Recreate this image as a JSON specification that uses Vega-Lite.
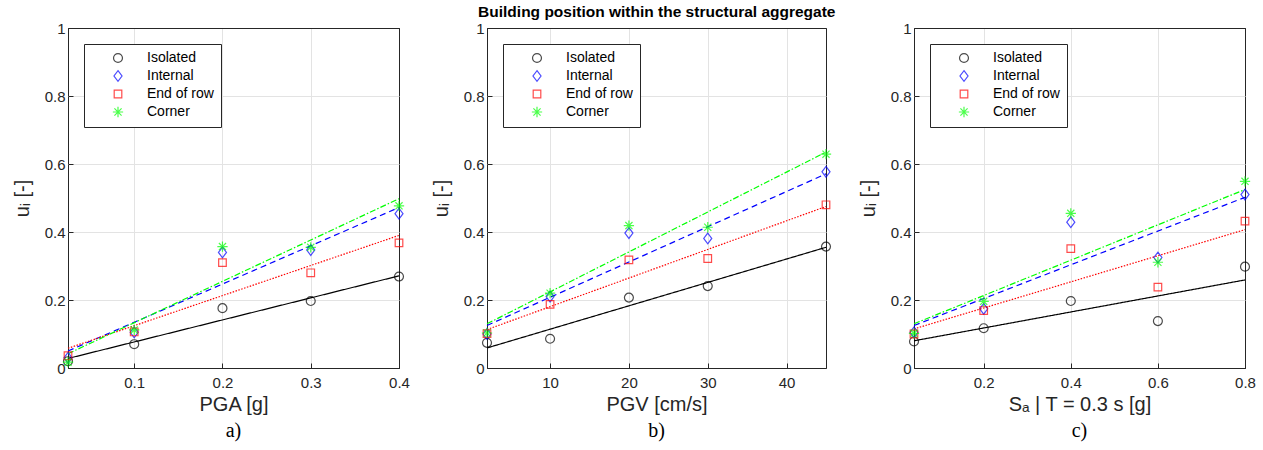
{
  "$schema": "https://vega.github.io/schema/vega-lite/v6.json",
  "background": "white",
  "padding": {"left": 11, "top": 5, "right": 5, "bottom": 2},
  "title": {"text": "Building position within the structural aggregate", "font": "Liberation Sans", "fontSize": 15.5, "fontWeight": "bold", "color": "#000000", "anchor": "middle", "dx": 23, "offset": 0},
  "spacing": 88,
  "bounds": "flush",
  "resolve": {"scale": {"color": "independent", "shape": "independent", "x": "independent"}, "legend": {"color": "independent", "shape": "independent"}},
  "datasets": {
    "pts": [
      {"panel": "a", "cat": "Isolated", "x": 0.025, "y": 0.02},
      {"panel": "a", "cat": "Isolated", "x": 0.1, "y": 0.07},
      {"panel": "a", "cat": "Isolated", "x": 0.2, "y": 0.176},
      {"panel": "a", "cat": "Isolated", "x": 0.3, "y": 0.197},
      {"panel": "a", "cat": "Isolated", "x": 0.4, "y": 0.269},
      {"panel": "a", "cat": "Internal", "x": 0.025, "y": 0.03},
      {"panel": "a", "cat": "Internal", "x": 0.1, "y": 0.105},
      {"panel": "a", "cat": "Internal", "x": 0.2, "y": 0.34},
      {"panel": "a", "cat": "Internal", "x": 0.3, "y": 0.347},
      {"panel": "a", "cat": "Internal", "x": 0.4, "y": 0.454},
      {"panel": "a", "cat": "End of row", "x": 0.025, "y": 0.036},
      {"panel": "a", "cat": "End of row", "x": 0.1, "y": 0.106},
      {"panel": "a", "cat": "End of row", "x": 0.2, "y": 0.31},
      {"panel": "a", "cat": "End of row", "x": 0.3, "y": 0.28},
      {"panel": "a", "cat": "End of row", "x": 0.4, "y": 0.368},
      {"panel": "a", "cat": "Corner", "x": 0.025, "y": 0.017},
      {"panel": "a", "cat": "Corner", "x": 0.1, "y": 0.112},
      {"panel": "a", "cat": "Corner", "x": 0.2, "y": 0.357},
      {"panel": "a", "cat": "Corner", "x": 0.3, "y": 0.355},
      {"panel": "a", "cat": "Corner", "x": 0.4, "y": 0.477},
      {"panel": "b", "cat": "Isolated", "x": 2, "y": 0.074},
      {"panel": "b", "cat": "Isolated", "x": 10, "y": 0.086},
      {"panel": "b", "cat": "Isolated", "x": 20, "y": 0.207},
      {"panel": "b", "cat": "Isolated", "x": 30, "y": 0.241},
      {"panel": "b", "cat": "Isolated", "x": 45, "y": 0.357},
      {"panel": "b", "cat": "Internal", "x": 2, "y": 0.1},
      {"panel": "b", "cat": "Internal", "x": 10, "y": 0.21},
      {"panel": "b", "cat": "Internal", "x": 20, "y": 0.397},
      {"panel": "b", "cat": "Internal", "x": 30, "y": 0.381},
      {"panel": "b", "cat": "Internal", "x": 45, "y": 0.577},
      {"panel": "b", "cat": "End of row", "x": 2, "y": 0.101},
      {"panel": "b", "cat": "End of row", "x": 10, "y": 0.187},
      {"panel": "b", "cat": "End of row", "x": 20, "y": 0.318},
      {"panel": "b", "cat": "End of row", "x": 30, "y": 0.322},
      {"panel": "b", "cat": "End of row", "x": 45, "y": 0.48},
      {"panel": "b", "cat": "Corner", "x": 2, "y": 0.103},
      {"panel": "b", "cat": "Corner", "x": 10, "y": 0.22},
      {"panel": "b", "cat": "Corner", "x": 20, "y": 0.419},
      {"panel": "b", "cat": "Corner", "x": 30, "y": 0.414},
      {"panel": "b", "cat": "Corner", "x": 45, "y": 0.629},
      {"panel": "c", "cat": "Isolated", "x": 0.04, "y": 0.078},
      {"panel": "c", "cat": "Isolated", "x": 0.2, "y": 0.117},
      {"panel": "c", "cat": "Isolated", "x": 0.4, "y": 0.197},
      {"panel": "c", "cat": "Isolated", "x": 0.6, "y": 0.138},
      {"panel": "c", "cat": "Isolated", "x": 0.8, "y": 0.298},
      {"panel": "c", "cat": "Internal", "x": 0.04, "y": 0.105},
      {"panel": "c", "cat": "Internal", "x": 0.2, "y": 0.174},
      {"panel": "c", "cat": "Internal", "x": 0.4, "y": 0.429},
      {"panel": "c", "cat": "Internal", "x": 0.6, "y": 0.325},
      {"panel": "c", "cat": "Internal", "x": 0.8, "y": 0.51},
      {"panel": "c", "cat": "End of row", "x": 0.04, "y": 0.1},
      {"panel": "c", "cat": "End of row", "x": 0.2, "y": 0.169},
      {"panel": "c", "cat": "End of row", "x": 0.4, "y": 0.351},
      {"panel": "c", "cat": "End of row", "x": 0.6, "y": 0.238},
      {"panel": "c", "cat": "End of row", "x": 0.8, "y": 0.432},
      {"panel": "c", "cat": "Corner", "x": 0.04, "y": 0.102},
      {"panel": "c", "cat": "Corner", "x": 0.2, "y": 0.196},
      {"panel": "c", "cat": "Corner", "x": 0.4, "y": 0.455},
      {"panel": "c", "cat": "Corner", "x": 0.6, "y": 0.311},
      {"panel": "c", "cat": "Corner", "x": 0.8, "y": 0.549}
    ],
    "fits": [
      {"panel": "a", "cat": "Isolated", "x": 0.025, "y": 0.028},
      {"panel": "a", "cat": "Isolated", "x": 0.4, "y": 0.271},
      {"panel": "a", "cat": "Internal", "x": 0.025, "y": 0.05},
      {"panel": "a", "cat": "Internal", "x": 0.4, "y": 0.472},
      {"panel": "a", "cat": "End of row", "x": 0.025, "y": 0.058},
      {"panel": "a", "cat": "End of row", "x": 0.4, "y": 0.39},
      {"panel": "a", "cat": "Corner", "x": 0.025, "y": 0.042},
      {"panel": "a", "cat": "Corner", "x": 0.4, "y": 0.498},
      {"panel": "b", "cat": "Isolated", "x": 2, "y": 0.059},
      {"panel": "b", "cat": "Isolated", "x": 45, "y": 0.355},
      {"panel": "b", "cat": "Internal", "x": 2, "y": 0.125},
      {"panel": "b", "cat": "Internal", "x": 45, "y": 0.571},
      {"panel": "b", "cat": "End of row", "x": 2, "y": 0.113},
      {"panel": "b", "cat": "End of row", "x": 45, "y": 0.475},
      {"panel": "b", "cat": "Corner", "x": 2, "y": 0.13},
      {"panel": "b", "cat": "Corner", "x": 45, "y": 0.635},
      {"panel": "c", "cat": "Isolated", "x": 0.04, "y": 0.08},
      {"panel": "c", "cat": "Isolated", "x": 0.8, "y": 0.259},
      {"panel": "c", "cat": "Internal", "x": 0.04, "y": 0.125},
      {"panel": "c", "cat": "Internal", "x": 0.8, "y": 0.502},
      {"panel": "c", "cat": "End of row", "x": 0.04, "y": 0.115},
      {"panel": "c", "cat": "End of row", "x": 0.8, "y": 0.407},
      {"panel": "c", "cat": "Corner", "x": 0.04, "y": 0.13},
      {"panel": "c", "cat": "Corner", "x": 0.8, "y": 0.525}
    ]
  },
  "hconcat": [
    {
      "width": 331, "height": 340,
      "title": {"text": "a)", "orient": "bottom"},
      "layer": [
        {
          "data": {"name": "fits"},
          "transform": [{"filter": "datum.panel === 'a'"}],
          "mark": {"type": "line", "strokeWidth": 1.2},
          "encoding": {
            "x": {"field": "x", "type": "quantitative", "scale": {"domain": [0.025, 0.4], "nice": false, "zero": false}, "axis": {"title": "PGA [g]", "values": [0.1, 0.2, 0.3, 0.4], "gridColor": {"condition": {"test": "datum.value >= 0.4", "value": "#262626"}, "value": "#e3e3e3"}}},
            "y": {"field": "y", "type": "quantitative", "scale": {"domain": [0, 1], "nice": false}, "axis": {"title": "uᵢ [-]", "values": [0, 0.2, 0.4, 0.6, 0.8, 1], "gridColor": {"condition": {"test": "datum.value <= 0 || datum.value >= 1", "value": "#262626"}, "value": "#e3e3e3"}}},
            "detail": {"field": "cat", "type": "nominal"},
            "stroke": {"field": "cat", "type": "nominal", "scale": {"domain": ["Isolated", "Internal", "End of row", "Corner"], "range": ["#000000", "#0000ff", "#ff0000", "#00ff00"]}, "legend": null},
            "strokeDash": {"field": "cat", "type": "nominal", "scale": {"domain": ["Isolated", "Internal", "End of row", "Corner"], "range": [[1, 0], [6, 4], [1.5, 1.5], [6, 2, 1.5, 2]]}, "legend": null}
          }
        },
        {
          "data": {"name": "pts"},
          "transform": [{"filter": "datum.panel === 'a'"}],
          "mark": {"type": "point", "filled": false, "size": 80, "strokeWidth": 1.2},
          "encoding": {
            "x": {"field": "x", "type": "quantitative"},
            "y": {"field": "y", "type": "quantitative"},
            "color": {"field": "cat", "type": "nominal", "scale": {"domain": ["Isolated", "Internal", "End of row", "Corner"], "range": ["#000000", "#0000ff", "#ff0000", "#00ff00"]}, "legend": {"title": null, "orient": "top-left", "offset": 16}},
            "shape": {"field": "cat", "type": "nominal", "scale": {"domain": ["Isolated", "Internal", "End of row", "Corner"], "range": ["circle", "M0,-1.2L0.9,0L0,1.2L-0.9,0Z", "M-0.85,-0.85L0.85,-0.85L0.85,0.85L-0.85,0.85Z", "M0,-1.15L0,1.15M-1.15,0L1.15,0M-0.8,-0.8L0.8,0.8M-0.8,0.8L0.8,-0.8"]}, "legend": {"title": null, "orient": "top-left", "offset": 16}}
          }
        }
      ]
    },
    {
      "width": 339, "height": 340,
      "title": {"text": "b)", "orient": "bottom"},
      "layer": [
        {
          "data": {"name": "fits"},
          "transform": [{"filter": "datum.panel === 'b'"}],
          "mark": {"type": "line", "strokeWidth": 1.2},
          "encoding": {
            "x": {"field": "x", "type": "quantitative", "scale": {"domain": [2, 45], "nice": false, "zero": false}, "axis": {"title": "PGV [cm/s]", "values": [10, 20, 30, 40]}},
            "y": {"field": "y", "type": "quantitative", "scale": {"domain": [0, 1], "nice": false}, "axis": {"title": "uᵢ [-]", "values": [0, 0.2, 0.4, 0.6, 0.8, 1], "gridColor": {"condition": {"test": "datum.value <= 0 || datum.value >= 1", "value": "#262626"}, "value": "#e3e3e3"}}},
            "detail": {"field": "cat", "type": "nominal"},
            "stroke": {"field": "cat", "type": "nominal", "scale": {"domain": ["Isolated", "Internal", "End of row", "Corner"], "range": ["#000000", "#0000ff", "#ff0000", "#00ff00"]}, "legend": null},
            "strokeDash": {"field": "cat", "type": "nominal", "scale": {"domain": ["Isolated", "Internal", "End of row", "Corner"], "range": [[1, 0], [6, 4], [1.5, 1.5], [6, 2, 1.5, 2]]}, "legend": null}
          }
        },
        {
          "data": {"name": "pts"},
          "transform": [{"filter": "datum.panel === 'b'"}],
          "mark": {"type": "point", "filled": false, "size": 80, "strokeWidth": 1.2},
          "encoding": {
            "x": {"field": "x", "type": "quantitative"},
            "y": {"field": "y", "type": "quantitative"},
            "color": {"field": "cat", "type": "nominal", "scale": {"domain": ["Isolated", "Internal", "End of row", "Corner"], "range": ["#000000", "#0000ff", "#ff0000", "#00ff00"]}, "legend": {"title": null, "orient": "top-left", "offset": 16}},
            "shape": {"field": "cat", "type": "nominal", "scale": {"domain": ["Isolated", "Internal", "End of row", "Corner"], "range": ["circle", "M0,-1.2L0.9,0L0,1.2L-0.9,0Z", "M-0.85,-0.85L0.85,-0.85L0.85,0.85L-0.85,0.85Z", "M0,-1.15L0,1.15M-1.15,0L1.15,0M-0.8,-0.8L0.8,0.8M-0.8,0.8L0.8,-0.8"]}, "legend": {"title": null, "orient": "top-left", "offset": 16}}
          }
        }
      ]
    },
    {
      "width": 331, "height": 340,
      "title": {"text": "c)", "orient": "bottom"},
      "layer": [
        {
          "data": {"name": "fits"},
          "transform": [{"filter": "datum.panel === 'c'"}],
          "mark": {"type": "line", "strokeWidth": 1.2},
          "encoding": {
            "x": {"field": "x", "type": "quantitative", "scale": {"domain": [0.04, 0.8], "nice": false, "zero": false}, "axis": {"title": "Sₐ | T = 0.3 s [g]", "values": [0.2, 0.4, 0.6, 0.8], "gridColor": {"condition": {"test": "datum.value >= 0.8", "value": "#262626"}, "value": "#e3e3e3"}}},
            "y": {"field": "y", "type": "quantitative", "scale": {"domain": [0, 1], "nice": false}, "axis": {"title": "uᵢ [-]", "values": [0, 0.2, 0.4, 0.6, 0.8, 1], "gridColor": {"condition": {"test": "datum.value <= 0 || datum.value >= 1", "value": "#262626"}, "value": "#e3e3e3"}}},
            "detail": {"field": "cat", "type": "nominal"},
            "stroke": {"field": "cat", "type": "nominal", "scale": {"domain": ["Isolated", "Internal", "End of row", "Corner"], "range": ["#000000", "#0000ff", "#ff0000", "#00ff00"]}, "legend": null},
            "strokeDash": {"field": "cat", "type": "nominal", "scale": {"domain": ["Isolated", "Internal", "End of row", "Corner"], "range": [[1, 0], [6, 4], [1.5, 1.5], [6, 2, 1.5, 2]]}, "legend": null}
          }
        },
        {
          "data": {"name": "pts"},
          "transform": [{"filter": "datum.panel === 'c'"}],
          "mark": {"type": "point", "filled": false, "size": 80, "strokeWidth": 1.2},
          "encoding": {
            "x": {"field": "x", "type": "quantitative"},
            "y": {"field": "y", "type": "quantitative"},
            "color": {"field": "cat", "type": "nominal", "scale": {"domain": ["Isolated", "Internal", "End of row", "Corner"], "range": ["#000000", "#0000ff", "#ff0000", "#00ff00"]}, "legend": {"title": null, "orient": "top-left", "offset": 16}},
            "shape": {"field": "cat", "type": "nominal", "scale": {"domain": ["Isolated", "Internal", "End of row", "Corner"], "range": ["circle", "M0,-1.2L0.9,0L0,1.2L-0.9,0Z", "M-0.85,-0.85L0.85,-0.85L0.85,0.85L-0.85,0.85Z", "M0,-1.15L0,1.15M-1.15,0L1.15,0M-0.8,-0.8L0.8,0.8M-0.8,0.8L0.8,-0.8"]}, "legend": {"title": null, "orient": "top-left", "offset": 16}}
          }
        }
      ]
    }
  ],
  "config": {
    "view": {"stroke": "#262626", "strokeWidth": 1},
    "font": "Liberation Sans",
    "axis": {"labelFont": "Liberation Sans", "labelFontSize": 15, "labelColor": "#262626", "titleFont": "Liberation Sans", "titleFontSize": 20, "titleFontWeight": "normal", "titleColor": "#262626", "gridColor": "#e3e3e3", "domain": false, "ticks": true, "tickSize": -5, "tickColor": "#262626", "labelPadding": 8, "labelFlush": false, "format": "~r"},
    "axisX": {"labelPadding": 12, "titlePadding": 4},
    "axisY": {"titlePadding": 12},
    "title": {"font": "Liberation Serif", "fontSize": 20, "fontWeight": "normal", "color": "#000000", "offset": 7},
    "legend": {"fillColor": "white", "strokeColor": "#262626", "padding": 7, "labelFont": "Liberation Sans", "labelFontSize": 14, "labelColor": "#000000", "symbolOffset": 20, "labelOffset": 22, "rowPadding": 3, "symbolSize": 80, "symbolStrokeWidth": 1.2}
  }
}
